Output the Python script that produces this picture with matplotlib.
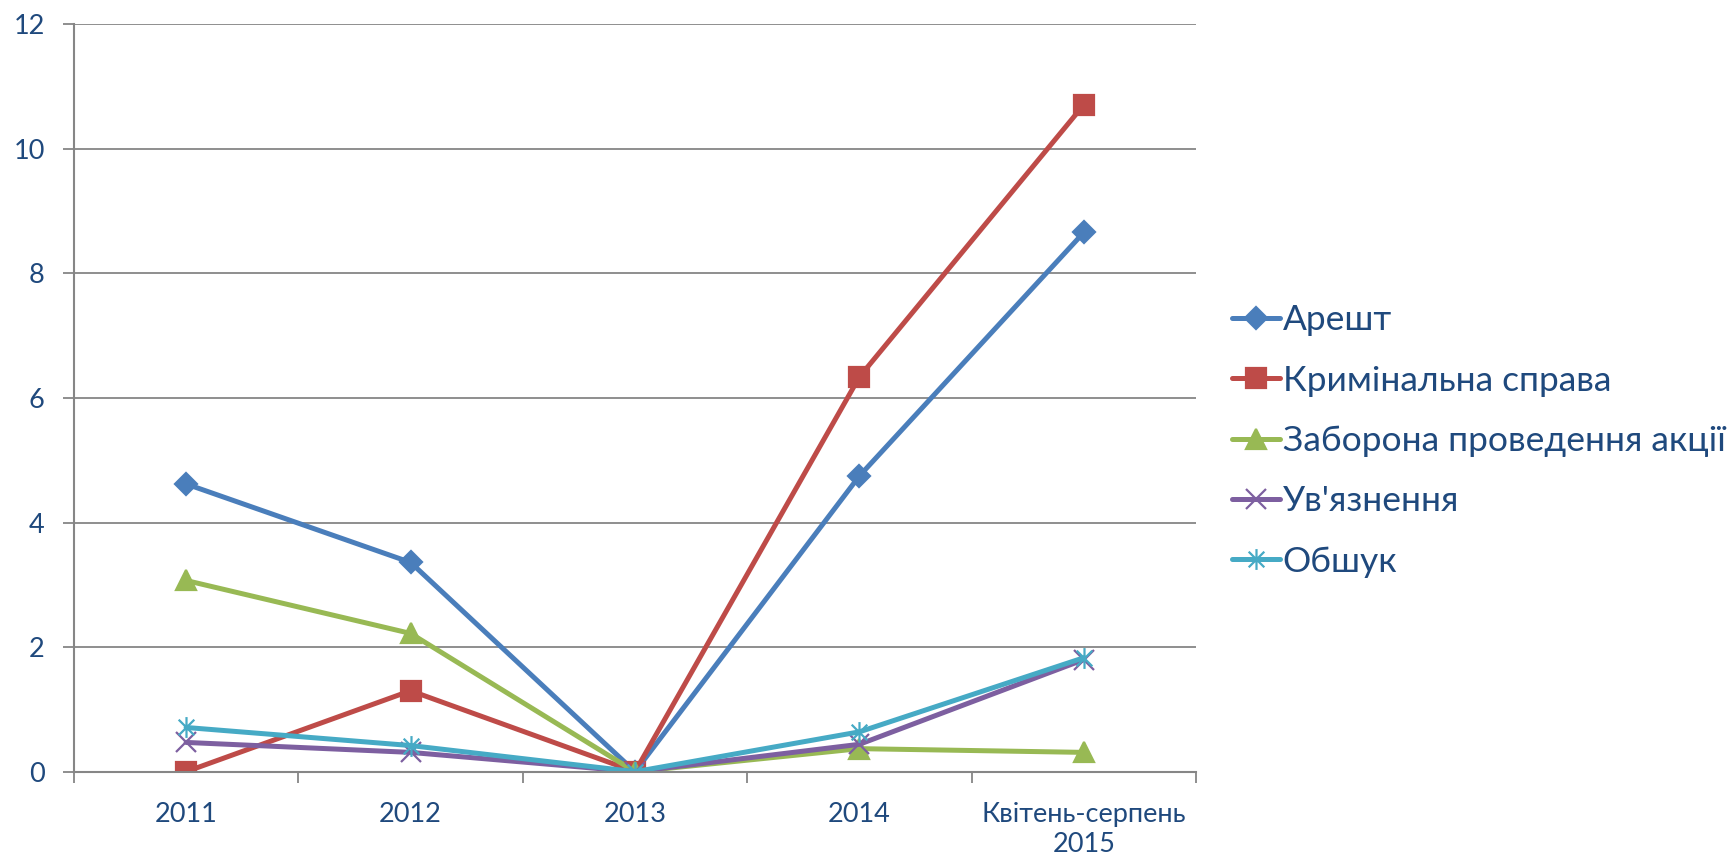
import matplotlib.pyplot as plt
from matplotlib.path import Path

plt.rcParams['font.family'] = ['Lato', 'DejaVu Sans']

categories = ['2011', '2012', '2013', '2014', 'Квітень-серпень\n2015']
arrest = [4.62, 3.36, 0.0, 4.75, 8.66]
criminal = [0.0, 1.30, 0.0, 6.34, 10.71]
ban = [3.07, 2.22, 0.0, 0.37, 0.31]
prison = [0.47, 0.31, 0.0, 0.44, 1.80]
search = [0.71, 0.42, 0.0, 0.64, 1.83]

labels = ['Арешт', 'Кримінальна справа', 'Заборона проведення акції',
          "Ув'язнення", 'Обшук']
colors = ['#4A7EBB', '#BE4B48', '#98B954', '#7D5FA0', '#46AAC5']

# excel style star: vertical bar + x
star = Path([(0, -1), (0, 1), (-0.75, -0.75), (0.75, 0.75), (-0.75, 0.75), (0.75, -0.75)],
            [Path.MOVETO, Path.LINETO, Path.MOVETO, Path.LINETO, Path.MOVETO, Path.LINETO])

text_col = '#1F497D'
grid_col = '#868686'

fig = plt.figure(figsize=(17.31, 8.63), dpi=100)
ax = fig.add_axes([0.0427, 0.1058, 0.6483, 0.866])

x = range(len(categories))
series = [arrest, criminal, ban, prison, search]
markers = ['D', 's', '^', 'x', star]
msizes = [11, 14, 15, 14, 15]
for vals, lab, c, m, ms in zip(series, labels, colors, markers, msizes):
    ax.plot(x, vals, color=c, lw=3.6, marker=m, markersize=ms,
            markeredgewidth=1.6, markerfacecolor=c, markeredgecolor=c,
            label=lab, solid_capstyle='round', solid_joinstyle='round')

ax.set_xlim(-0.5, 4.5)
ax.set_ylim(0, 12)
ax.set_yticks(range(0, 13, 2))
ax.yaxis.grid(True, color=grid_col, lw=1.3)
ax.set_axisbelow(True)

ax.set_xticks(list(x))
ax.set_xticklabels(categories, fontsize=19.5, color=text_col, linespacing=1.25)
ax.set_xticks([i - 0.5 for i in range(6)], minor=True)
ax.tick_params(axis='x', which='major', length=0, pad=22)
ax.tick_params(axis='x', which='minor', length=8, width=1.3, color=grid_col)
ax.tick_params(axis='y', length=8, width=1.3, color=grid_col, labelsize=19.5,
               labelcolor=text_col, pad=13)

for s in ['top', 'right']:
    ax.spines[s].set_visible(False)
for s in ['left', 'bottom']:
    ax.spines[s].set_color(grid_col)
    ax.spines[s].set_linewidth(1.5)

leg = ax.legend(loc='center left', bbox_to_anchor=(0.7115, 0.489),
                bbox_transform=fig.transFigure, frameon=False, fontsize=25.5,
                handlelength=1.36, handletextpad=0.08, labelspacing=0.80,
                borderaxespad=0, borderpad=0)
for t in leg.get_texts():
    t.set_color(text_col)

fig.savefig('out.png', dpi=100)
